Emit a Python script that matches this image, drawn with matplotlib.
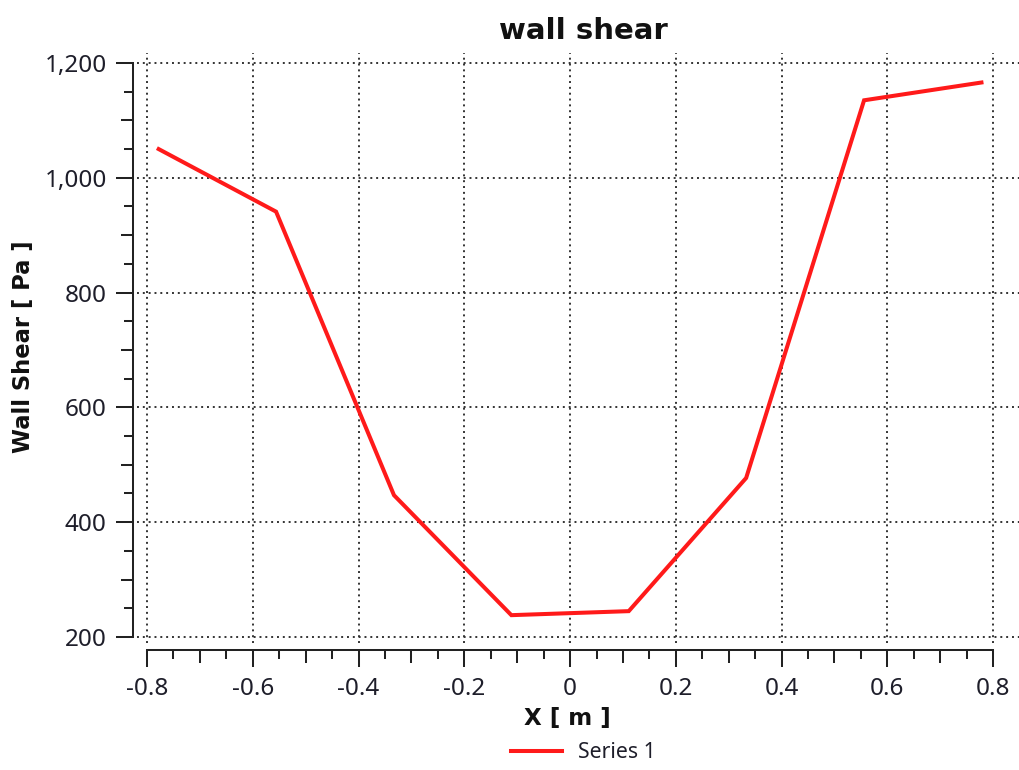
import numpy as np
import matplotlib
matplotlib.use("Agg")
import matplotlib.pyplot as plt
from matplotlib.markers import TICKDOWN, TICKLEFT
from matplotlib.ticker import FixedLocator, FuncFormatter

# data
x_pos = [-0.778, -0.556, -0.333, -0.111, 0.111, 0.333, 0.556, 0.778]
wall_shear = [1050, 941, 447, 238, 245, 477, 1135, 1166]
x_ticks = [-0.8, -0.6, -0.4, -0.2, 0.0, 0.2, 0.4, 0.6, 0.8]
y_ticks = [200, 400, 600, 800, 1000, 1200]

plt.rcParams['font.family'] = ['Noto Sans', 'DejaVu Sans']
plt.rcParams['axes.unicode_minus'] = False

ink = '#1e1e2a'
axis_col = '#222222'

fig = plt.figure(figsize=(10.2, 7.7), dpi=100)
ax = fig.add_axes([137 / 1020, 127 / 770, 882 / 1020, 590 / 770])

ax.plot(x_pos, wall_shear, color='#ff1a1a', linewidth=2.9, label='Series 1',
        solid_joinstyle='miter', zorder=3)

ax.set_xlim(-0.819, 0.849)
ax.set_ylim(189.5, 1217.4)

# spines: only left and bottom, pushed outward and bounded to tick range
for side in ['top', 'right']:
    ax.spines[side].set_visible(False)
ax.spines['left'].set_position(('outward', 2.9))
ax.spines['bottom'].set_position(('outward', 5))
ax.spines['left'].set_bounds(y_ticks[0], y_ticks[-1])
ax.spines['bottom'].set_bounds(x_ticks[0], x_ticks[-1])
for side in ['left', 'bottom']:
    ax.spines[side].set_linewidth(1.45)
    ax.spines[side].set_color(axis_col)

# ticks: major, quarter (minor) and half-way (a bit longer, drawn as markers)
x_quarter = []
x_half = []
for a, b in zip(x_ticks[:-1], x_ticks[1:]):
    step = (b - a) / 4
    x_quarter += [a + step, a + 3 * step]
    x_half.append(a + 2 * step)
y_quarter = []
y_half = []
for a, b in zip(y_ticks[:-1], y_ticks[1:]):
    step = (b - a) / 4
    y_quarter += [a + step, a + 3 * step]
    y_half.append(a + 2 * step)

ax.xaxis.set_major_locator(FixedLocator(x_ticks))
ax.yaxis.set_major_locator(FixedLocator(y_ticks))
ax.xaxis.set_minor_locator(FixedLocator(x_quarter))
ax.yaxis.set_minor_locator(FixedLocator(y_quarter))
ax.xaxis.set_major_formatter(FuncFormatter(lambda v, p: '%g' % round(v, 3)))
ax.yaxis.set_major_formatter(FuncFormatter(lambda v, p: '{:,.0f}'.format(v)))

ax.tick_params(which='major', direction='out', length=11.9, width=1.45,
               color=axis_col, labelsize=17.5, labelcolor=ink)
ax.tick_params(axis='x', which='major', pad=7.5)
ax.tick_params(axis='y', which='major', pad=7)
ax.tick_params(which='minor', direction='out', length=6.5, width=1.45,
               color=axis_col)

ax.plot(x_half, np.zeros(len(x_half)), ls='none', marker=TICKDOWN,
        markersize=9, markeredgewidth=1.45, color=axis_col, clip_on=False,
        transform=ax.spines['bottom'].get_spine_transform())
ax.plot(np.zeros(len(y_half)), y_half, ls='none', marker=TICKLEFT,
        markersize=9, markeredgewidth=1.45, color=axis_col, clip_on=False,
        transform=ax.spines['left'].get_spine_transform())

ax.grid(True, which='major', color='#333333', linestyle=(0, (1, 2)),
        linewidth=1.4)

# titles and labels
bold = ['DejaVu Sans']
fig.text(583.5 / 1020, 1 - 39 / 770, 'wall shear', fontsize=21,
         fontweight='bold', family=bold, ha='center', va='baseline',
         color='#111111')
fig.text(567 / 1020, 1 - 725 / 770, 'X [ m ]', fontsize=16.6,
         fontweight='bold', family=bold, ha='center', va='baseline',
         color='#111111')
fig.text(24 / 1020, 1 - 347 / 770, 'Wall Shear [ Pa ]', fontsize=16.3,
         fontweight='bold', family=bold, ha='center', va='center',
         rotation=90, color='#111111')

ax.legend(loc='center', bbox_to_anchor=(583 / 1020, 1 - 753 / 770),
          bbox_transform=fig.transFigure, frameon=False, fontsize=15.3,
          handlelength=2.4, handletextpad=0.75, labelcolor=ink)

fig.savefig('out.png', dpi=100)
